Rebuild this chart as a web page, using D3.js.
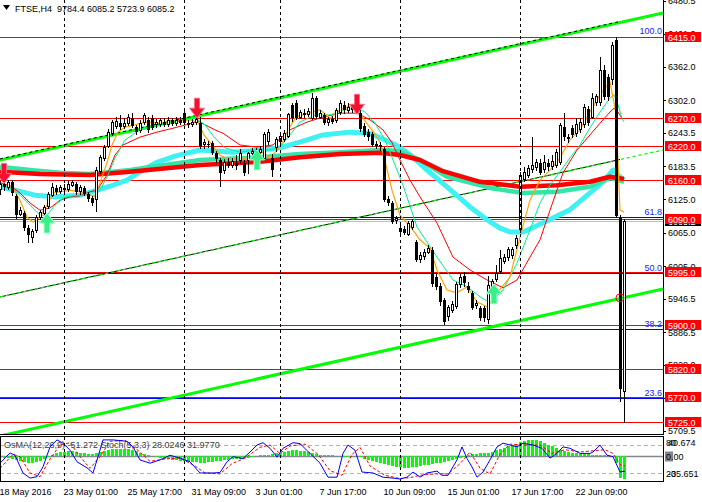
<!DOCTYPE html>
<html>
<head>
<meta charset="utf-8">
<script src="https://cdn.jsdelivr.net/npm/d3@7"></script>
<style>
body { margin: 0; background: #fff; }
text { font-family: "Liberation Sans", Arial, sans-serif; font-size: 9px; }
</style>
</head>
<body>
<svg id="chart" width="702" height="502"></svg>
<script>
// ---- data ----
var header = "FTSE,H4  9784.4 6085.2 5723.9 6085.2";
var subHeader = "OsMA(12,26,9) -51.272 Stoch(5,3,3) 28.0246 31.9770";

// one row per H4 bar: open, high, low, close
var ohlc = [
 [6142,6158,6132,6152],[6152,6156,6140,6146],[6146,6160,6142,6154],[6155,6160,6130,6136],
 [6130,6134,6090,6096],[6098,6110,6094,6104],[6100,6104,6068,6073],[6074,6078,6046,6060],
 [6056,6072,6046,6067],[6068,6096,6064,6092],[6092,6106,6088,6101],[6100,6114,6096,6110],
 [6112,6138,6108,6134],[6132,6154,6128,6146],[6144,6150,6132,6138],[6138,6150,6134,6145],
 [6145,6152,6136,6141],[6142,6158,6138,6152],[6150,6160,6146,6154],[6152,6156,6132,6138],
 [6138,6150,6132,6146],[6144,6148,6130,6134],[6134,6138,6120,6126],[6127,6130,6112,6118],
 [6124,6182,6102,6177],[6174,6204,6170,6200],[6198,6222,6194,6218],[6220,6250,6216,6245],
 [6242,6266,6238,6262],[6255,6272,6250,6264],[6262,6275,6248,6254],[6255,6270,6250,6260],
 [6260,6278,6256,6272],[6270,6280,6252,6256],[6254,6258,6240,6246],[6248,6266,6244,6260],
 [6262,6280,6258,6275],[6267,6272,6244,6249],[6270,6275,6248,6252],[6258,6268,6252,6263],
 [6258,6270,6254,6266],[6264,6270,6254,6258],[6258,6272,6254,6266],[6266,6270,6256,6260],
 [6260,6272,6256,6266],[6266,6272,6258,6262],[6279,6284,6258,6261],[6262,6266,6252,6258],
 [6258,6268,6254,6262],[6262,6272,6258,6268],[6262,6272,6214,6219],[6222,6232,6215,6226],
 [6224,6230,6216,6222],[6226,6230,6204,6208],[6208,6212,6190,6196],[6195,6198,6147,6172],
 [6176,6196,6170,6190],[6192,6198,6180,6185],[6186,6198,6180,6192],[6190,6204,6178,6184],
 [6194,6214,6188,6207],[6190,6195,6166,6172],[6195,6210,6170,6206],[6206,6216,6200,6210],
 [6212,6216,6202,6208],[6208,6220,6204,6214],[6198,6246,6194,6240],[6228,6250,6222,6245],
 [6199,6206,6164,6177],[6218,6236,6210,6231],[6228,6242,6222,6238],[6232,6248,6228,6243],
 [6238,6280,6234,6276],[6294,6298,6264,6270],[6298,6302,6266,6270],[6272,6285,6268,6280],
 [6280,6286,6270,6276],[6276,6288,6272,6282],[6270,6315,6266,6306],[6306,6310,6268,6272],
 [6272,6284,6268,6278],[6276,6280,6258,6262],[6262,6272,6256,6268],[6268,6274,6260,6264],
 [6266,6288,6262,6284],[6280,6302,6276,6296],[6294,6300,6278,6284],[6284,6298,6280,6290],
 [6290,6296,6280,6284],[6286,6300,6280,6292],[6280,6284,6246,6250],[6256,6262,6236,6240],
 [6245,6250,6230,6236],[6242,6246,6218,6222],[6224,6230,6214,6220],[6222,6228,6212,6218],
 [6214,6218,6120,6124],[6126,6130,6112,6118],[6118,6122,6080,6084],[6086,6094,6080,6090],
 [6074,6080,6060,6066],[6072,6076,6060,6064],[6062,6086,6058,6082],[6074,6090,6070,6084],
 [6048,6052,6012,6016],[6016,6030,6010,6024],[6022,6036,6016,6030],[6030,6042,6026,6036],
 [6034,6040,5968,5972],[5986,5990,5962,5968],[5970,5974,5934,5940],[5944,5948,5900,5905],
 [5914,5936,5906,5930],[5926,5942,5920,5936],[5932,5976,5928,5972],[5972,5992,5966,5985],
 [5988,5994,5968,5974],[5970,5976,5956,5962],[5956,5960,5926,5930],[5934,5944,5928,5938],
 [5930,5934,5906,5912],[5930,5934,5904,5912],[5910,5988,5902,5970],[5966,5982,5960,5978],
 [5980,6006,5976,5992],[5996,6034,5990,6018],[6014,6026,6008,6020],[6020,6040,6014,6034],
 [6024,6040,6018,6034],[6042,6060,6036,6054],[6070,6174,6064,6168],[6160,6182,6156,6172],
 [6168,6186,6162,6180],[6178,6236,6172,6186],[6182,6196,6176,6190],[6190,6196,6168,6172],
 [6178,6204,6172,6190],[6190,6196,6176,6182],[6184,6204,6178,6192],[6186,6214,6180,6208],
 [6190,6262,6186,6256],[6254,6280,6230,6236],[6236,6242,6226,6232],[6252,6258,6234,6240],
 [6242,6270,6236,6258],[6250,6270,6244,6262],[6258,6296,6252,6290],[6286,6292,6256,6262],
 [6272,6316,6268,6306],[6298,6314,6292,6308],[6298,6380,6292,6356],[6356,6366,6302,6308],
 [6344,6350,6300,6308],[6340,6406,6330,6400],[6410,6416,6092,6094],[6092,6096,5762,5784],
 [5780,6090,5724,6085]
];

// moving averages as [bar, price]
var maOrange = [[0,6150],[2,6149],[3.25,6145],[5,6123],[6.75,6093],[8.25,6084],[10,6093],[11.75,6114],[13.25,6136],[15,6138],[17.5,6141],[20,6138],[22.5,6132],[23.75,6129],[25,6154],[26.75,6190],[28,6222],[29.5,6245],[31.25,6254],[33.75,6258],[36.25,6263],[40,6261],[43.75,6265],[47.5,6267],[49.5,6263],[51,6240],[53,6222],[55,6204],[57.5,6195],[60,6200],[62.5,6195],[65.5,6209],[67.5,6199],[70,6218],[72,6249],[74,6272],[77,6279],[80,6285],[82.5,6270],[85,6285],[87.5,6292],[89.5,6285],[91,6267],[93,6249],[95,6227],[96.5,6186],[98,6141],[100,6096],[102.5,6077],[105,6052],[107.5,6037],[109.25,5998],[111.75,5962],[114.25,5957],[116.75,5968],[119.25,5941],[121.75,5932],[124.25,5957],[127.5,5985],[130,6057],[132.5,6123],[135,6159],[137.5,6177],[140,6199],[142.5,6231],[145,6249],[147.5,6281],[150,6312],[152.5,6335],[154,6279],[155,6105],[156,6102]];
var maMint = [[0,6147],[2.5,6145],[5,6132],[7.5,6114],[10,6096],[11.75,6096],[13.75,6114],[16.25,6129],[20,6132],[23.75,6132],[25,6141],[27,6168],[28.75,6199],[31.25,6231],[35,6249],[40,6258],[45,6265],[49,6270],[51.25,6258],[53.75,6234],[56.25,6217],[60,6209],[63.75,6213],[67.5,6213],[70,6218],[72.5,6240],[75,6263],[78.75,6276],[82.5,6276],[86.25,6285],[89.25,6288],[91.25,6281],[93.75,6261],[96.25,6231],[98.75,6186],[100.75,6150],[104.25,6075],[109.25,6021],[113.25,5980],[116.75,5968],[120,5950],[122.5,5939],[125.75,5962],[129.25,6010],[132.5,6070],[135,6118],[137.5,6150],[140,6174],[142.5,6199],[145,6222],[147.5,6253],[150,6281],[152.5,6306],[153.5,6312],[154.5,6294],[155.5,6270],[156,6263]];
var maRedThin = [[0,6154],[2.5,6149],[5,6136],[7.5,6118],[10,6105],[12.5,6109],[15,6123],[17.5,6129],[20,6131],[22.5,6138],[24.25,6141],[26.75,6168],[28.75,6204],[30.75,6222],[35,6236],[39.25,6245],[43.25,6252],[47.5,6260],[49.5,6265],[51.25,6258],[53.75,6249],[55.75,6243],[60,6222],[64.25,6218],[68.25,6222],[72.5,6249],[76.75,6263],[80.75,6272],[85,6279],[89.25,6279],[92.5,6267],[95.75,6249],[98,6226],[100,6195],[102.5,6159],[105,6129],[109.25,6082],[113.25,6021],[117.5,5998],[121.75,5980],[125.75,5966],[129.25,5980],[132.5,6021],[135,6052],[137.5,6105],[140.75,6172],[144.25,6213],[147.5,6240],[150,6261],[152.5,6281],[153.5,6288],[154.5,6281],[155.5,6270]];
var maCyan = [[0,6147],[3.75,6141],[8.75,6132],[13.75,6129],[20,6132],[24.25,6141],[27.5,6148],[31.75,6159],[35,6174],[39.25,6191],[43.75,6202],[50,6213],[58.25,6209],[65,6213],[70,6217],[75,6227],[80.75,6240],[87.5,6245],[92.5,6243],[97.5,6227],[100,6218],[103.25,6200],[106.75,6177],[111.75,6147],[117.5,6111],[121.75,6088],[125,6073],[127.5,6066],[130.75,6066],[135,6080],[138.75,6093],[142.5,6106],[147.5,6136],[150.75,6156],[153.25,6177],[154.5,6168],[156,6159]];
var maAqua = [[0,6183],[7.5,6177],[15,6172],[22.5,6170],[32.5,6177],[50,6195],[65,6200],[75,6206],[85,6209],[95,6213],[100,6211],[105,6195],[111.75,6165],[122.5,6145],[130.75,6136],[139.25,6138],[147.5,6147],[152.5,6163],[156,6156]];
var maRedThick = [[0,6174],[10,6170],[22.5,6168],[32.5,6174],[50,6186],[65,6192],[75,6200],[85,6206],[95,6208],[100,6204],[105,6195],[110.75,6175],[120,6156],[130,6147],[139.25,6150],[147.5,6156],[152.5,6165],[156,6161]];

// channel lines, [bar, price] end points
var chUpper = [[0,6195.1],[165.75,6458.6]];
var chMiddle = [[0,5949.6],[165.75,6213.0]];
var chLower = [[0,5700.5],[165.75,5963.9]];
var chUpperDots = [[0,6195.1],[155,6441.5]];
var chMiddleBlack = [[0,5949.6],[155,6196.0]];

var redLevels = [6415, 6270, 6220, 6160, 6090, 5995, 5900, 5820, 5770, 5725];
var fibLabels = ["100.0", "61.8", "50.0", "38.2", "23.6"];
var fibPrices = [6416, 6092.1, 5992, 5891.9, 5768.1];
var bidPrice = 6085.2;
var priceTicks = [6480.5, 6421.0, 6362.0, 6302.0, 6243.5, 6183.5, 6125.0, 6065.0, 6005.0, 5946.5, 5886.5, 5828.0, 5768.0, 5709.5];

var redArrows = [[1, 6153], [49.25, 6270], [89.25, 6277]];     // bar, tip price
var greenArrows = [[11.75, 6100], [64.25, 6213], [123.5, 5973]];
var circleMark = [155, 5948];

var timeBars = [0, 16, 32, 48, 64, 80, 96, 112, 128, 144];
var timeLabels = ["18 May 2016", "23 May 01:00", "25 May 17:00", "31 May 09:00", "3 Jun 01:00",
                  "7 Jun 17:00", "10 Jun 09:00", "15 Jun 01:00", "17 Jun 17:00", "22 Jun 09:00"];
var weekBars = [16, 46, 70, 100, 130];

var osma = [-2,-3,-4,-5,-8,-10,-12,-14,-14,-12,-10,-6,-2,4,7,9,10,11,11,10,8,7,6,6,8,10,12,14,16,17,
  17,17,16,15,12,8,5,3,1,-1,-3,-5,-7,-8,-9,-10,-11,-12,-13,-13,-14,-14,-13,-12,-11,-10,-9,-8,-7,-6,
  -5,-4,-3,-1,1,2,3,4,6,7,8,10,12,13,13,12,11,10,8,6,4,3,2,2,1,1,0,0,1,1,
  -2,-5,-8,-11,-13,-15,-17,-19,-21,-23,-24,-25,-25,-24,-23,-22,-20,-19,-17,-16,-14,-13,-11,-9,-6,-3,0,3,5,6,
  7,8,8,10,13,16,19,22,25,28,32,35,37,37,36,33,30,26,22,18,14,11,9,8,7,6,5,5,4,4,
  3,3,2,-2,-15,-48,-51];
var stochMain = [[0,41],[2.5,63],[3.75,58],[5.75,20],[7.5,9],[9.25,12],[10.75,33],[12.5,76],[14.25,91],[15.75,84],[17.5,69],[19.25,44],[21.75,31],[23.25,20],[24.5,55],[25.75,91],[28.25,91],[31.75,88],[33.25,76],[35,48],[37.5,41],[40,48],[42.5,58],[45,52],[47.5,44],[50,20],[53.25,20],[55,21],[56.75,44],[58.25,55],[60.75,51],[62.5,65],[64.25,80],[65.75,85],[67.5,73],[69.25,54],[70.75,73],[73.25,85],[75,83],[77.5,62],[80,41],[82,11],[84.25,11],[85.75,62],[87,80],[88.75,69],[90.5,22],[93.25,20],[95.75,11],[98.25,9],[100,7],[101.75,11],[103.25,22],[105,11],[106.75,20],[109.25,24],[110.5,15],[112,15],[114.25,48],[115.5,76],[116.75,51],[118,33],[119.25,11],[120.75,22],[122.5,48],[124.25,76],[125.75,84],[127.5,80],[129.25,76],[130.75,84],[133.25,80],[135.5,73],[137.5,52],[139.25,62],[140.75,76],[142.5,73],[145,62],[147.5,62],[148.25,65],[150,80],[151.75,58],[153.25,55],[155,22],[156.25,24]];
var stochSignal = [[0,30],[3.25,60],[5,55],[7.5,20],[10,12],[12.5,50],[15,80],[17.5,85],[20,55],[22.5,30],[25,55],[27.5,88],[31.25,90],[35,65],[37.5,45],[41.25,50],[45,52],[48.75,35],[51.25,20],[55,18],[58,40],[61.25,52],[65,75],[67.5,80],[70,62],[72.5,78],[76.25,82],[79.5,60],[82.5,25],[85.5,15],[88,60],[90,75],[92.5,35],[96.25,15],[100,8],[102.5,10],[105,15],[108.75,18],[112,18],[115,40],[117.5,65],[120,30],[122.5,18],[125,60],[127.5,82],[131.25,80],[135,80],[138,62],[141.25,70],[145,65],[148.75,68],[151.25,70],[153.25,62],[155,38],[156.25,35]];

// ---- drawing ----
var svg = d3.select("#chart");
var plotW = 663, mainH = 434, subTop = 437, subBot = 482;

var x = d3.scaleLinear().domain([0, 165.75]).range([0, plotW]);
var y = d3.scaleLinear().domain([5704, 6481.8]).range([mainH, 0]);
var yOs = d3.scaleLinear().domain([-55, 43]).range([481, 437]);
var ySt = d3.scaleLinear().domain([0, 100]).range([482.3, 435.7]);

function px(v) { return Math.round(v) + 0.5; }

svg.append("rect").attr("width", 702).attr("height", 502).attr("fill", "#fff");

var defs = svg.append("defs");
defs.append("clipPath").attr("id", "clipMain").append("rect").attr("x", 0).attr("y", 0).attr("width", plotW).attr("height", mainH);
defs.append("clipPath").attr("id", "clipSub").append("rect").attr("x", 0).attr("y", subTop).attr("width", plotW).attr("height", subBot - subTop);

var main = svg.append("g").attr("clip-path", "url(#clipMain)");
var sub = svg.append("g").attr("clip-path", "url(#clipSub)");

// week separators
weekBars.forEach(function(b) {
  [[0, mainH], [subTop, subBot]].forEach(function(r) {
    svg.append("line").attr("x1", px(x(b))).attr("x2", px(x(b))).attr("y1", r[0]).attr("y2", r[1])
      .attr("stroke", "#000").attr("stroke-dasharray", "3,3");
  });
});

// header
svg.append("path").attr("d", "M3,5 L10,5 L6.5,10 Z").attr("fill", "#000");
svg.append("text").attr("x", 15).attr("y", 12).attr("fill", "#000").attr("xml:space", "preserve").text(header);

// horizontal levels
main.append("line").attr("x1", 0).attr("x2", plotW).attr("y1", px(y(bidPrice))).attr("y2", px(y(bidPrice)))
  .attr("stroke", "#c0c0c0");
fibPrices.forEach(function(p, k) {
  main.append("line").attr("x1", 0).attr("x2", plotW).attr("y1", px(y(p))).attr("y2", px(y(p)))
    .attr("stroke", "#0000ff");
  main.append("text").attr("x", plotW - 1).attr("y", y(p) - 2.5).attr("text-anchor", "end")
    .attr("fill", "#2020ff").text(fibLabels[k]);
});
redLevels.forEach(function(p) {
  main.append("line").attr("x1", 0).attr("x2", plotW).attr("y1", px(y(p))).attr("y2", px(y(p)))
    .attr("stroke", "#ff0000");
});

// channel
var seg = d3.line().x(function(d) { return x(d[0]); }).y(function(d) { return y(d[1]); });
main.append("path").attr("d", seg(chUpper)).attr("stroke", "#00ff00").attr("stroke-width", 3).attr("fill", "none");
main.append("path").attr("d", seg(chUpperDots)).attr("stroke", "#000").attr("stroke-width", 1)
  .attr("stroke-dasharray", "3,3").attr("fill", "none").attr("transform", "translate(0,-1)");
main.append("path").attr("d", seg(chLower)).attr("stroke", "#00ff00").attr("stroke-width", 3).attr("fill", "none");
main.append("path").attr("d", seg(chMiddleBlack)).attr("stroke", "#000").attr("stroke-width", 1).attr("fill", "none");
main.append("path").attr("d", seg(chMiddle)).attr("stroke", "#00ff00").attr("stroke-width", 1.3)
  .attr("stroke-dasharray", "3,3").attr("fill", "none");

// moving averages
function drawMA(data, color, width) {
  main.append("path").attr("d", seg(data)).attr("fill", "none")
    .attr("stroke", color).attr("stroke-width", width).attr("stroke-linejoin", "round");
}
drawMA(maCyan, "#3ff0f4", 5);
drawMA(maAqua, "#33e6a8", 4.5);
drawMA(maRedThick, "#ff0000", 4.5);
drawMA(maRedThin, "#ff0000", 1);
drawMA(maMint, "#00f090", 1);
drawMA(maOrange, "#ffa500", 1.2);

// candles
var cg = main.append("g").attr("shape-rendering", "crispEdges");
ohlc.forEach(function(c, i) {
  var cx = Math.round(x(i));
  cg.append("line").attr("x1", cx + 0.5).attr("x2", cx + 0.5).attr("y1", y(c[1])).attr("y2", y(c[2])).attr("stroke", "#000");
  var top = y(Math.max(c[0], c[3])), bot = y(Math.min(c[0], c[3]));
  if (c[3] >= c[0]) {
    cg.append("rect").attr("x", cx - 0.5).attr("y", top).attr("width", 2).attr("height", Math.max(bot - top, 1))
      .attr("fill", "#fff").attr("stroke", "#000");
  } else {
    cg.append("rect").attr("x", cx - 1).attr("y", top).attr("width", 3).attr("height", Math.max(bot - top, 1))
      .attr("fill", "#000");
  }
});

// signal arrows
redArrows.forEach(function(a) {
  var ax = x(a[0]), ay = y(a[1]);
  main.append("path")
    .attr("d", "M" + (ax - 2.5) + "," + (ay - 20) + " h5 v10 h5 l-7.5,10 l-7.5,-10 h5 z")
    .attr("fill", "#f5102e").attr("stroke", "#ff6a8a").attr("stroke-width", 1);
});
greenArrows.forEach(function(a) {
  var ax = x(a[0]), ay = y(a[1]);
  main.append("path")
    .attr("d", "M" + ax + "," + ay + " l8,10 h-5 v10 h-6 v-10 h-5 z")
    .attr("fill", "#38f08a").attr("stroke", "#aaffcc").attr("stroke-width", 1);
});
main.append("circle").attr("cx", x(circleMark[0])).attr("cy", y(circleMark[1])).attr("r", 4)
  .attr("fill", "none").attr("stroke", "#ff0000");

// frames
svg.append("line").attr("x1", px(plotW)).attr("x2", px(plotW)).attr("y1", 0).attr("y2", mainH).attr("stroke", "#000");
svg.append("line").attr("x1", 0).attr("x2", plotW + 1).attr("y1", px(mainH)).attr("y2", px(mainH)).attr("stroke", "#000");
svg.append("rect").attr("x", 0.5).attr("y", subTop - 0.5).attr("width", plotW).attr("height", subBot - subTop)
  .attr("fill", "none").attr("stroke", "#000");

// price axis
priceTicks.forEach(function(p) {
  var yy = y(p);
  svg.append("line").attr("x1", plotW).attr("x2", plotW + 3).attr("y1", px(yy)).attr("y2", px(yy)).attr("stroke", "#000");
  svg.append("text").attr("x", 668).attr("y", yy + 3.5).attr("fill", "#000").text(p.toFixed(1));
});
function priceBox(p, fill) {
  var yy = Math.round(y(p));
  svg.append("rect").attr("x", 665).attr("y", yy - 5).attr("width", 36).attr("height", 10).attr("fill", fill);
  svg.append("text").attr("x", 668).attr("y", yy + 3.5).attr("fill", "#fff").text(p.toFixed(1));
}
priceBox(bidPrice, "#000");
redLevels.forEach(function(p) { priceBox(p, "#ff0000"); });

// sub window
[80, 20].forEach(function(v) {
  sub.append("line").attr("x1", 0).attr("x2", plotW).attr("y1", px(ySt(v))).attr("y2", px(ySt(v)))
    .attr("stroke", "#b4b4b4").attr("stroke-dasharray", "4,3");
});
sub.append("text").attr("x", 4).attr("y", 448).attr("fill", "#404040").text(subHeader);
sub.append("line").attr("x1", 0).attr("x2", plotW).attr("y1", px(yOs(0))).attr("y2", px(yOs(0)))
  .attr("stroke", "#808890").attr("stroke-width", 1.5);
var og = sub.append("g").attr("shape-rendering", "crispEdges");
osma.forEach(function(v, i) {
  var cx = Math.round(x(i));
  og.append("rect").attr("x", cx - 1).attr("width", 3)
    .attr("y", Math.min(yOs(0), yOs(v))).attr("height", Math.max(Math.abs(yOs(v) - yOs(0)), 0.5))
    .attr("fill", "#00ff00");
});
var stLine = d3.line().x(function(d) { return x(d[0]); }).y(function(d) { return ySt(d[1]); });
sub.append("path").attr("d", stLine(stochSignal)).attr("fill", "none").attr("stroke", "#ff0000")
  .attr("stroke-dasharray", "3,2");
sub.append("path").attr("d", stLine(stochMain)).attr("fill", "none").attr("stroke", "#0000ff");

svg.append("text").attr("x", 668).attr("y", 446).attr("fill", "#000").text("40.674");
svg.append("text").attr("x", 666).attr("y", 446).attr("fill", "#000").text("80");
svg.append("rect").attr("x", 665).attr("y", 451.5).attr("width", 8).attr("height", 10).attr("fill", "#808890");
svg.append("text").attr("x", 666).attr("y", 460).attr("fill", "#000").text("0.00");
svg.append("text").attr("x", 666).attr("y", 477).attr("fill", "#000").text("20");
svg.append("text").attr("x", 668).attr("y", 477).attr("fill", "#000").text("-35.651");

// time axis
timeBars.forEach(function(b, k) {
  svg.append("text").attr("x", x(b) - 0.5).attr("y", 495).attr("fill", "#000").text(timeLabels[k]);
});
</script>
</body>
</html>
